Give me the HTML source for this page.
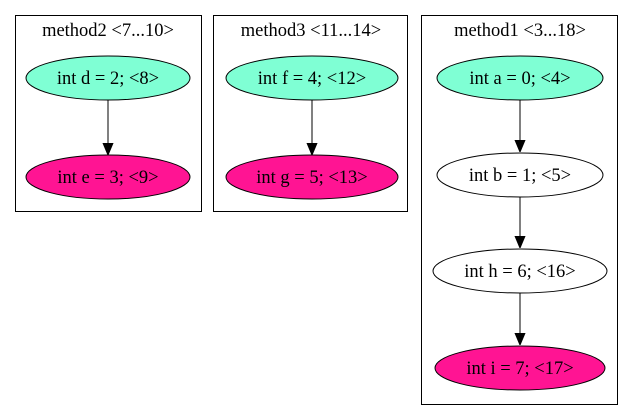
<!DOCTYPE html>
<html><head><meta charset="utf-8"><style>
html,body{margin:0;padding:0;background:#fff;width:635px;height:420px;overflow:hidden}
text{font-family:"Liberation Serif",serif;font-size:18.5px;fill:#000}
</style></head><body>
<svg width="635" height="420" viewBox="0 0 635 420" xmlns="http://www.w3.org/2000/svg">
<defs><marker id="ah" markerWidth="12" markerHeight="14" refX="12" refY="7" orient="auto" markerUnits="userSpaceOnUse"><path d="M0,2 L12,7 L0,12 z" fill="#000" stroke="#000"/></marker></defs>

<g>
<rect x="15.5" y="15.5" width="186" height="196" fill="none" stroke="#000"/>
<text x="108" y="36" text-anchor="middle">method2 &lt;7...10&gt;</text>
<ellipse cx="108" cy="78" rx="82" ry="22" fill="#7fffd4" stroke="#000"/>
<text x="108" y="84" text-anchor="middle">int d = 2; &lt;8&gt;</text>
<line x1="108" y1="100" x2="108" y2="155" stroke="#000" marker-end="url(#ah)"/>
<ellipse cx="108" cy="177" rx="82" ry="22" fill="#ff1493" stroke="#000"/>
<text x="108" y="183" text-anchor="middle">int e = 3; &lt;9&gt;</text>
</g>

<g>
<rect x="213.5" y="15.5" width="194" height="196" fill="none" stroke="#000"/>
<text x="311" y="36" text-anchor="middle">method3 &lt;11...14&gt;</text>
<ellipse cx="312" cy="78" rx="86" ry="22" fill="#7fffd4" stroke="#000"/>
<text x="312" y="84" text-anchor="middle">int f = 4; &lt;12&gt;</text>
<line x1="312" y1="100" x2="312" y2="155" stroke="#000" marker-end="url(#ah)"/>
<ellipse cx="312" cy="177" rx="86" ry="22" fill="#ff1493" stroke="#000"/>
<text x="312" y="183" text-anchor="middle">int g = 5; &lt;13&gt;</text>
</g>

<g>
<rect x="421.5" y="15.5" width="196" height="389" fill="none" stroke="#000"/>
<text x="520" y="36" text-anchor="middle">method1 &lt;3...18&gt;</text>
<ellipse cx="520" cy="78" rx="83" ry="22" fill="#7fffd4" stroke="#000"/>
<text x="520" y="84" text-anchor="middle">int a = 0; &lt;4&gt;</text>
<line x1="520" y1="100" x2="520" y2="152" stroke="#000" marker-end="url(#ah)"/>
<ellipse cx="520" cy="175" rx="83" ry="22" fill="#fff" stroke="#000"/>
<text x="520" y="181" text-anchor="middle">int b = 1; &lt;5&gt;</text>
<line x1="520" y1="197" x2="520" y2="248" stroke="#000" marker-end="url(#ah)"/>
<ellipse cx="520" cy="271" rx="87" ry="22" fill="#fff" stroke="#000"/>
<text x="520" y="277" text-anchor="middle">int h = 6; &lt;16&gt;</text>
<line x1="520" y1="293" x2="520" y2="345" stroke="#000" marker-end="url(#ah)"/>
<ellipse cx="520" cy="368" rx="85" ry="22" fill="#ff1493" stroke="#000"/>
<text x="520" y="374" text-anchor="middle">int i = 7; &lt;17&gt;</text>
</g>
</svg>
</body></html>
